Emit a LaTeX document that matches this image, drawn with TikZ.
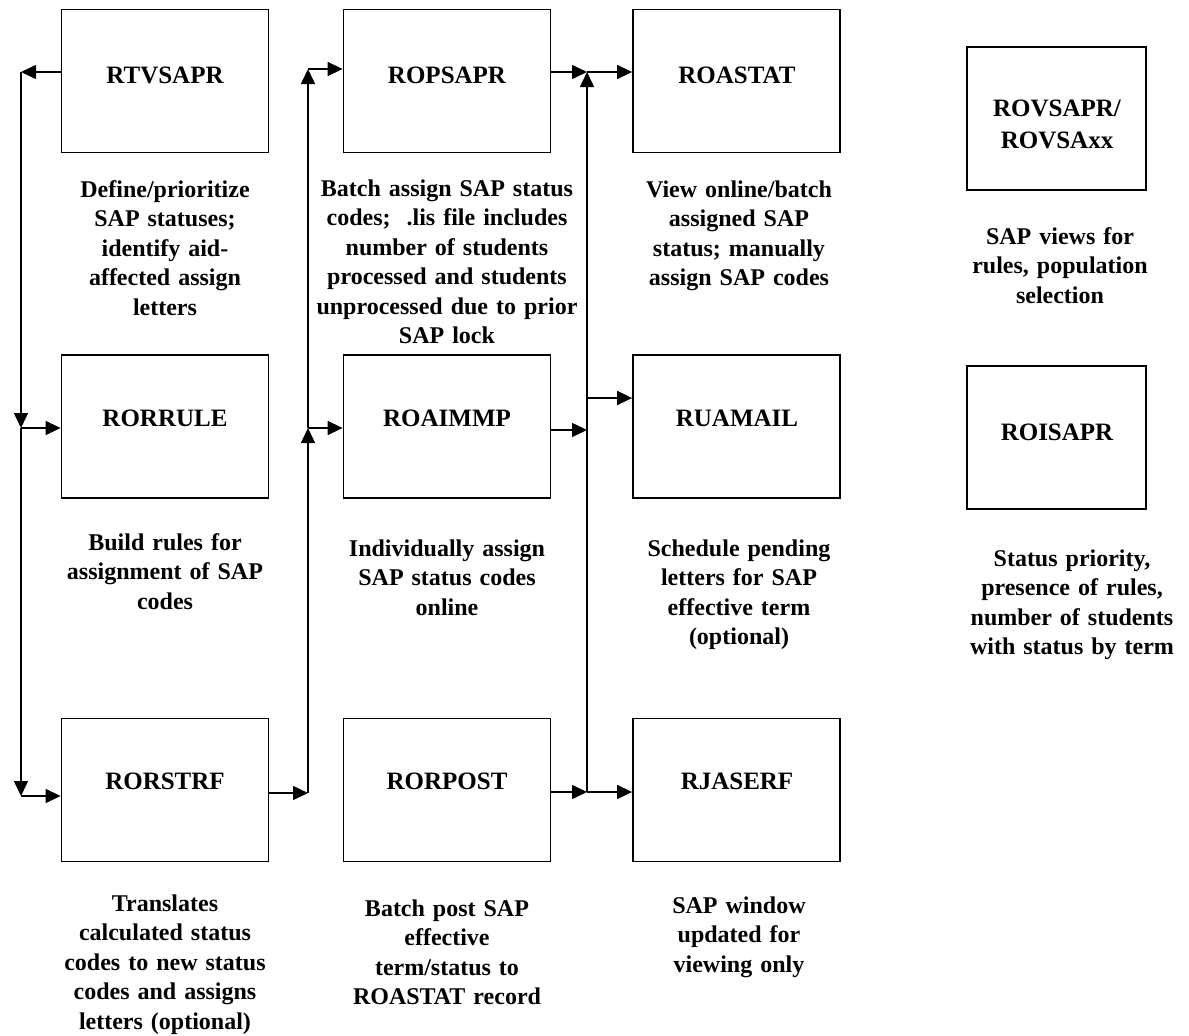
\documentclass[tikz,border=0pt]{standalone}
\usepackage{fontspec}
\setmainfont{Liberation Serif}
\usetikzlibrary{arrows.meta}
\begin{document}
\begin{tikzpicture}[x=1pt,y=-1pt,
  box/.style={draw=black,line width=1.8pt,inner sep=0pt,minimum width=207pt,minimum height=143pt},
  lbl/.style={inner sep=0pt,font=\fontsize{25}{32}\selectfont\bfseries,align=center},
  desc/.style={inner sep=0pt,anchor=base,text width=320pt,align=center,font=\fontsize{24}{29.5}\selectfont\bfseries},
  conn/.style={line width=1.5pt,-{Triangle[length=15pt,width=14pt]}}]
\path[use as bounding box,fill=white] (0,0) rectangle (1189,1036);
% boxes
\node[box] (rtvsapr) at (165,81) {};
\node[box] (ropsapr) at (447,81) {};
\node[box] (roastat) at (736.5,81) {};
\node[box] (rorrule) at (165,426.5) {};
\node[box] (roaimmp) at (447,426.5) {};
\node[box] (ruamail) at (736.5,426.5) {};
\node[box] (rorstrf) at (165,790) {};
\node[box] (rorpost) at (447,790) {};
\node[box] (rjaserf) at (736.5,790) {};
\node[box,minimum width=179pt] (rovsapr) at (1056.5,118.5) {};
\node[box,minimum width=179pt] (roisapr) at (1056.5,437.5) {};
% box labels
\node[lbl] (t1) at (165,75) {RTVSAPR};
\node[lbl] (t2) at (447,75) {ROPSAPR};
\node[lbl] (t3) at (737,75) {ROASTAT};
\node[lbl] (t4) at (165,418) {RORRULE};
\node[lbl] (t5) at (447,418) {ROAIMMP};
\node[lbl] (t6) at (737,418) {RUAMAIL};
\node[lbl] (t7) at (165,781) {RORSTRF};
\node[lbl] (t8) at (447,781) {RORPOST};
\node[lbl] (t9) at (737,781) {RJASERF};
\node[lbl] (t10) at (1057,124) {ROVSAPR/\\ROVSAxx};
\node[lbl] (t11) at (1057,432) {ROISAPR};
% descriptions
\node[desc] (d1) at (165,197) {Define/prioritize\\SAP statuses;\\identify aid-\\affected assign\\letters};
\node[desc] (d2) at (447,196) {Batch assign SAP status\\codes;\ \ .lis file includes\\number of students\\processed and students\\unprocessed due to prior\\SAP lock};
\node[desc] (d3) at (739,197) {View online/batch\\assigned SAP\\status; manually\\assign SAP codes};
\node[desc] (d4) at (1060,244) {SAP views for\\rules, population\\selection};
\node[desc] (d5) at (165,550) {Build rules for\\assignment of SAP\\codes};
\node[desc] (d6) at (447,556) {Individually assign\\SAP status codes\\online};
\node[desc] (d7) at (739,556) {Schedule pending\\letters for SAP\\effective term\\(optional)};
\node[desc] (d8) at (1072,566) {Status priority,\\presence of rules,\\number of students\\with status by term};
\node[desc] (d9) at (165,911) {Translates\\calculated status\\codes to new status\\codes and assigns\\letters (optional)};
\node[desc] (d10) at (447,916) {Batch post SAP\\effective\\term/status to\\ROASTAT record};
\node[desc] (d11) at (739,913) {SAP window\\updated for\\viewing only};
% bend points
\coordinate (L1) at (21,72);
\coordinate (L2) at (21,428);
\coordinate (L3) at (21,796);
\coordinate (M1) at (308,793);
\coordinate (M2) at (308,428);
\coordinate (M3) at (308,69);
\coordinate (R1) at (587,72);
\coordinate (R2) at (587,398);
\coordinate (R3) at (587,430);
\coordinate (R4) at (587,792);
% left connectors
\draw[conn] (rtvsapr.west |- L1) -- (L1);
\draw[conn] (L1) -- (L2);
\draw[conn] (L2) -- (rorrule.west |- L2);
\draw[conn] (L2) -- (L3);
\draw[conn] (L3) -- (rorstrf.west |- L3);
% middle connectors
\draw[conn] (rorstrf.east |- M1) -- (M1);
\draw[conn] (M1) -- (M2);
\draw[conn] (M2) -- (roaimmp.west |- M2);
\draw[conn] (M2) -- (M3);
\draw[conn] (M3) -- (ropsapr.west |- M3);
% right connectors
\draw[conn] (ropsapr.east |- R1) -- (R1);
\draw[conn] (R1) -- (roastat.west |- R1);
\draw[conn] (roaimmp.east |- R3) -- (R3);
\draw[conn] (rorpost.east |- R4) -- (R4);
\draw[conn] (R4) -- (rjaserf.west |- R4);
\draw[conn] (R4) -- (R1);
\draw[conn] (R2) -- (ruamail.west |- R2);
\end{tikzpicture}
\end{document}
